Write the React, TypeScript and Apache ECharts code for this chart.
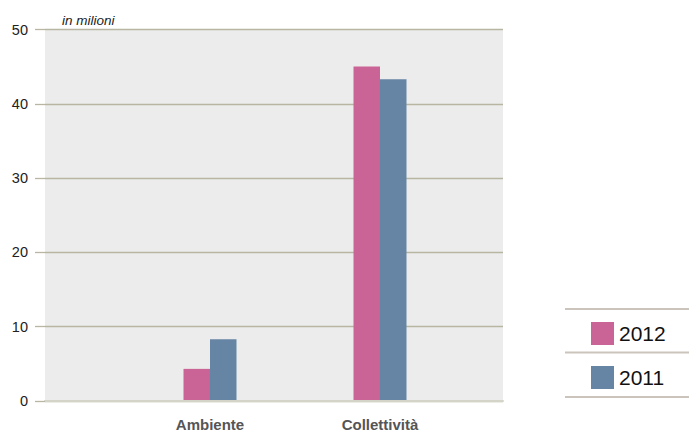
import React, { useEffect, useRef } from "react";
import * as echarts from "echarts";

const categories = ["Ambiente", "Collettività"];
const values2012 = [4.2, 45];
const values2011 = [8.2, 43.3];
const yTicks = [0, 10, 20, 30, 40, 50];
const seriesNames = ["2012", "2011"];
const colors = ["#cb6496", "#6685a4"];
const FONT = "'Liberation Sans', Arial, sans-serif";

export default function App() {
  const ref = useRef<HTMLDivElement>(null);
  useEffect(() => {
    const chart = echarts.init(ref.current!, null, { renderer: "svg" });
    const yMin = yTicks[0];
    const yMax = yTicks[yTicks.length - 1];
    const step = yTicks[1] - yTicks[0];
    chart.setOption({
      animation: false,
      textStyle: { fontFamily: FONT },
      grid: [
        { left: 45, right: 186, top: 29.5, bottom: 31, show: true, backgroundColor: "#ebeceb", borderWidth: 0 },
        { left: 125, right: 224, top: 29.5, bottom: 31 },
      ],
      xAxis: [
        {
          type: "value", gridIndex: 0, min: 0, max: 1,
          axisLine: { show: true, lineStyle: { color: "#d4d4c8", width: 2 } },
          axisTick: { show: false }, axisLabel: { show: false }, splitLine: { show: false },
        },
        {
          type: "category", gridIndex: 1, data: categories,
          axisLine: { show: false }, axisTick: { show: false },
          axisLabel: { color: "#555", fontWeight: "bold", fontSize: 15, margin: 17, fontFamily: FONT },
        },
      ],
      yAxis: [
        {
          type: "value", gridIndex: 0, min: yMin, max: yMax, interval: step,
          axisLine: { show: false },
          axisTick: { show: true, length: 10, lineStyle: { color: "#b8b6a2", width: 1.3 } },
          axisLabel: { color: "#222", fontSize: 14.5, margin: 17, fontFamily: FONT },
          splitLine: { show: true, lineStyle: { color: "#b8b6a2", width: 1.3 } },
        },
        {
          type: "value", gridIndex: 1, min: yMin, max: yMax, interval: step, show: false,
          splitLine: { show: false },
        },
      ],
      legend: {
        orient: "vertical", left: 586, top: 317, itemWidth: 23, itemHeight: 23, itemGap: 21,
        icon: "rect",
        textStyle: { fontSize: 21, color: "#111", fontFamily: FONT },
        data: seriesNames,
      },
      series: [
        {
          name: seriesNames[0], type: "bar", xAxisIndex: 1, yAxisIndex: 1,
          data: values2012, barWidth: 26.5, barGap: "0%", itemStyle: { color: colors[0] },
        },
        {
          name: seriesNames[1], type: "bar", xAxisIndex: 1, yAxisIndex: 1,
          data: values2011, barWidth: 26.5, barGap: "0%", itemStyle: { color: colors[1] },
        },
      ],
      graphic: [
        { type: "text", left: 62, top: 13, style: { text: "in milioni", fontStyle: "italic", fontSize: 13.5, fill: "#222", fontFamily: FONT } },
        { type: "line", shape: { x1: 565, y1: 309, x2: 689, y2: 309 }, style: { stroke: "#cbc4bc", lineWidth: 2 } },
        { type: "line", shape: { x1: 565, y1: 352.5, x2: 689, y2: 352.5 }, style: { stroke: "#cbc4bc", lineWidth: 2 } },
        { type: "line", shape: { x1: 565, y1: 397, x2: 689, y2: 397 }, style: { stroke: "#cbc4bc", lineWidth: 2 } },
      ],
    });
    return () => chart.dispose();
  }, []);
  return <div ref={ref} style={{ width: 689, height: 432, position: "absolute", left: 0, top: 0 }} />;
}
